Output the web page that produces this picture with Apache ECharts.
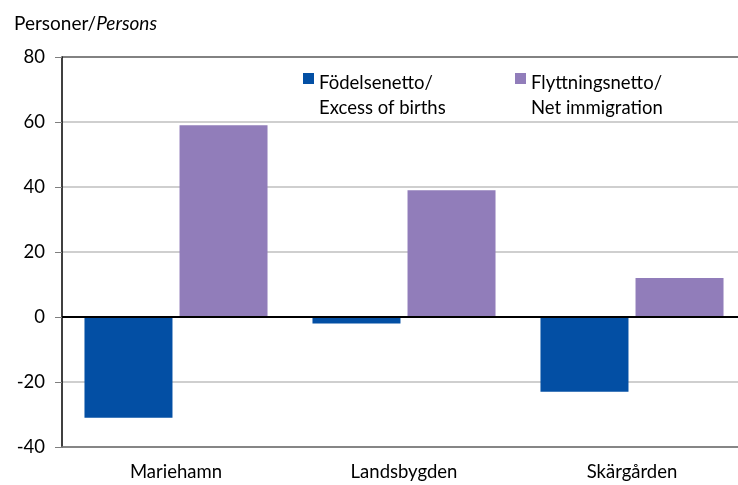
<!DOCTYPE html>
<html>
<head>
<meta charset="utf-8">
<script src="https://cdn.jsdelivr.net/npm/echarts@6/dist/echarts.min.js"></script>
<style>html,body{margin:0;padding:0;background:#fff;overflow:hidden}#c{width:746px;height:485px}</style>
</head>
<body>
<div id="c"></div>
<script>
const categories = ['Mariehamn', 'Landsbygden', 'Skärgården'];
const birthsName = 'Födelsenetto/\nExcess of births';
const migrationName = 'Flyttningsnetto/\nNet immigration';
const births = [-31, -2, -23];
const migration = [59, 39, 12];
const yTicks = { min: -40, max: 80, interval: 20 };

const FONT = 'Lato, "Open Sans", sans-serif';
const FS = 18.5;
const iconPath = 'path://M0,0h11v11h-11z M0,46h11v0.001h-11z';
const chart = echarts.init(document.getElementById('c'));
chart.setOption({
  animation: false,
  textStyle: { fontFamily: FONT, color: '#000' },
  title: {
    text: '{a|Personer/}{b|Persons}',
    left: 9, top: 9,
    textStyle: {
      fontWeight: 'normal',
      rich: {
        a: { fontFamily: FONT, fontSize: 19, color: '#000', fontWeight: 'normal' },
        b: { fontFamily: FONT, fontSize: 19, color: '#000', fontStyle: 'italic', fontWeight: 'normal' }
      }
    }
  },
  grid: { left: 62, right: 0, top: 57, bottom: 38 },
  legend: [
    { data: [birthsName], left: 303, top: 71, padding: 0, itemWidth: 11, itemHeight: 46, icon: iconPath,
      itemStyle: { borderWidth: 0 },
      textStyle: { fontFamily: FONT, fontSize: FS, lineHeight: 25, color: '#000' }, selectedMode: false },
    { data: [migrationName], left: 515, top: 71, padding: 0, itemWidth: 11, itemHeight: 46, icon: iconPath,
      itemStyle: { borderWidth: 0 },
      textStyle: { fontFamily: FONT, fontSize: FS, lineHeight: 25, color: '#000' }, selectedMode: false }
  ],
  xAxis: {
    type: 'category',
    data: categories,
    axisLine: { onZero: false, lineStyle: { color: '#7f7f7f', width: 1.5 } },
    axisTick: { show: false },
    axisLabel: { fontFamily: FONT, fontSize: FS, color: '#000', margin: 16 }
  },
  yAxis: {
    type: 'value',
    min: yTicks.min, max: yTicks.max, interval: yTicks.interval,
    axisLine: { show: true, lineStyle: { color: '#000', width: 1.5 } },
    axisTick: { show: true, length: 7, lineStyle: { color: '#7f7f7f' } },
    axisLabel: { fontFamily: FONT, fontSize: FS, color: '#000', margin: 17 },
    splitLine: { show: true, lineStyle: { color: ['#7f7f7f', '#bfbfbf', '#bfbfbf', '#bfbfbf', '#bfbfbf', '#bfbfbf', '#595959'], width: 1.5 } }
  },
  series: [
    {
      name: birthsName, type: 'bar', data: births,
      barWidth: 88, barGap: '8%',
      itemStyle: { color: '#034fa4' },
      markLine: {
        silent: true, symbol: ['none', 'none'], label: { show: false },
        lineStyle: { color: '#000', width: 2, type: 'solid' },
        data: [{ yAxis: 0 }]
      }
    },
    {
      name: migrationName, type: 'bar', data: migration,
      barWidth: 88, barGap: '8%',
      itemStyle: { color: '#917dba' }
    }
  ]
});
</script>
</body>
</html>
